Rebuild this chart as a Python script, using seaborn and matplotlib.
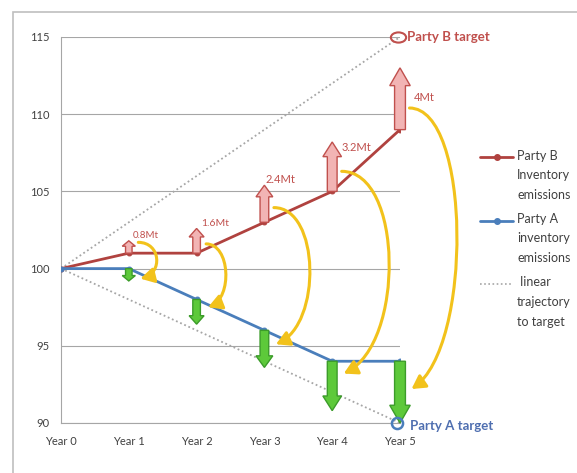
import matplotlib
matplotlib.use('Agg')
import matplotlib.pyplot as plt
import seaborn as sns
import pandas as pd
from matplotlib.patches import FancyArrowPatch, Rectangle
from matplotlib.path import Path
from matplotlib.transforms import Affine2D
from matplotlib.lines import Line2D

# chart data
years = [0, 1, 2, 3, 4, 5]
year_labels = ['Year 0', 'Year 1', 'Year 2', 'Year 3', 'Year 4', 'Year 5']
party_b = [100, 101, 101, 103, 105, 109]
party_a = [100, 100, 98, 96, 94, 94]
target_b = 115
target_a = 90
transfer_mt = [0.8, 1.6, 2.4, 3.2, 4.0]   # years 1-5
transfer_labels = ['0.8Mt', '1.6Mt', '2.4Mt', '3.2Mt', '4Mt']
# yellow transfer arcs (from Party B side down to Party A side)
arc_top = [101.7, 101.6, 103.95, 106.3, 110.4]
arc_bottom = [99.35, 97.5, 95.1, 93.2, 92.2]
arc_reach = [0.25, 0.27, 0.51, 0.68, 0.68]

red = '#B0423F'
blue = '#4A7EBB'
gold = '#F2C21B'
grey = '#A6A6A6'

sns.set_style('white')
plt.rcParams['font.family'] = ['Lato', 'DejaVu Sans']

df = pd.DataFrame({'year': years, 'Party B': party_b, 'Party A': party_a})

fig = plt.figure(figsize=(5.77, 4.73), dpi=100)
ax = fig.add_axes([61 / 577, 1 - 423 / 473, 339 / 577, 386 / 473])

# linear trajectories to the targets
ax.plot([years[0], years[-1]], [party_b[0], target_b], ls=(0, (1, 1.5)), color=grey, lw=1.3, zorder=2)
ax.plot([years[0], years[-1]], [party_a[0], target_a], ls=(0, (1, 1.5)), color=grey, lw=1.3, zorder=2)

sns.lineplot(data=df, x='year', y='Party B', color=red, lw=2, marker='o', ms=3.5,
             mec=red, ax=ax, zorder=3)
sns.lineplot(data=df, x='year', y='Party A', color=blue, lw=2, marker='o', ms=3.5,
             mec=blue, ax=ax, zorder=3)

# up / down transfer arrows
for i, (yr, mt) in enumerate(zip(years[1:], transfer_mt)):
    w = 0.08 + 0.02 * mt
    hw = 1.7 * w + 0.03
    hl = 0.15 + 0.25 * mt
    ax.arrow(yr, party_b[i + 1], 0, mt, width=w, head_width=hw, head_length=hl,
             length_includes_head=True, fc='#F2B4B4', ec='#C0504D', lw=1, zorder=4,
             clip_on=False)
    ax.arrow(yr, party_a[i + 1], 0, -mt, width=w, head_width=hw, head_length=hl,
             length_includes_head=True, fc='#5DC93A', ec='#3C9C2A', lw=1, zorder=4,
             clip_on=False)

# Mt labels next to the red arrows (offsets in pixels from arrow tip)
label_offsets = [(4, 5), (5, 5), (1, 6), (9, -6), (14, -30)]
label_sizes = [7, 7.5, 8, 8, 8]
for i, (yr, mt) in enumerate(zip(years[1:], transfer_mt)):
    ax.annotate(transfer_labels[i], (yr, party_b[i + 1] + mt), xytext=label_offsets[i],
                textcoords='offset pixels', ha='left', va='center', fontsize=label_sizes[i],
                color='#C0504D', zorder=6)

# yellow curved arrows
for i, yr in enumerate(years[1:]):
    sx, sy = yr + 0.14, arc_top[i]
    ex, ey = yr + 0.17, arc_bottom[i]
    k = arc_reach[i] / 0.75
    h = (sy - ey) * 0.15
    path = Path([(sx, sy), (sx + k, sy), (ex + k, ey + h), (ex, ey)],
                [Path.MOVETO, Path.CURVE4, Path.CURVE4, Path.CURVE4])
    arc = FancyArrowPatch(path=path, arrowstyle='-|>,head_length=0.8,head_width=0.45',
                          mutation_scale=10, lw=2.2, color=gold, shrinkA=0, shrinkB=0,
                          zorder=5, clip_on=False)
    ax.add_patch(arc)

# target markers
ellipse = Path.unit_circle().transformed(Affine2D().scale(1.5, 1.0))
ax.plot(years[-1] - 0.03, target_b, marker=ellipse, ms=11, mfc='none', mec='#C0504D', mew=1.5,
        clip_on=False, zorder=6)
ax.plot(years[-1] - 0.05, target_a, marker='o', ms=8, mfc='none', mec=blue, mew=1.8,
        clip_on=False, zorder=6)
ax.annotate('Party B target', (years[-1], target_b), xytext=(7, 0), textcoords='offset pixels',
            va='center', ha='left', fontsize=9.5, fontweight='bold', color='#C0504D')
ax.annotate('Party A target', (years[-1], target_a), xytext=(10, -3), textcoords='offset pixels',
            va='center', ha='left', fontsize=9.5, fontweight='bold', color='#4F6FB0')

ax.set_xlim(0, 5)
ax.set_ylim(90, 115)
ax.set_xticks(years)
ax.set_xticklabels(year_labels)
ax.set_yticks([90, 95, 100, 105, 110, 115])
ax.set_xlabel('')
ax.set_ylabel('')
ax.tick_params(axis='both', labelsize=8, colors='#404040', length=3, width=0.8,
               direction='out')
ax.tick_params(axis='x', pad=6)
ax.tick_params(axis='y', pad=5)
ax.tick_params(axis='both', color=grey)
ax.grid(axis='y', color=grey, lw=0.8)
ax.set_axisbelow(True)
for side in ['top', 'right']:
    ax.spines[side].set_visible(False)
for side in ['left', 'bottom']:
    ax.spines[side].set_color(grey)
    ax.spines[side].set_linewidth(0.8)

# legend, drawn by hand so the key lines sit on the first text line
legend_items = [
    ('Party B\nInventory\nemissions', red, '-', 'o'),
    ('Party A\ninventory\nemissions', blue, '-', 'o'),
    (' linear\ntrajectory\nto target', grey, (0, (1, 1.5)), None),
]
W, H = 577, 473
for j, (txt, c, ls, mk) in enumerate(legend_items):
    ypx = 157 + 63.5 * j
    fig.add_artist(Line2D([480 / W, 513 / W], [1 - ypx / H] * 2, color=c, ls=ls, lw=2 if mk else 1.2,
                          transform=fig.transFigure))
    if mk:
        fig.add_artist(Line2D([496.5 / W], [1 - ypx / H], color=c, marker=mk, ms=4,
                              transform=fig.transFigure))
    fig.text(517 / W, 1 - (ypx - 7.5) / H, txt, va='top', ha='left', fontsize=9,
             color='#404040', linespacing=1.75)

# chart frame
fig.add_artist(Rectangle((13 / W, -0.02), 1.0, 1 - 12 / H + 0.02, transform=fig.transFigure,
                         fill=False, ec='#BFBFBF', lw=1.2))

fig.savefig('out.png', dpi=100)
